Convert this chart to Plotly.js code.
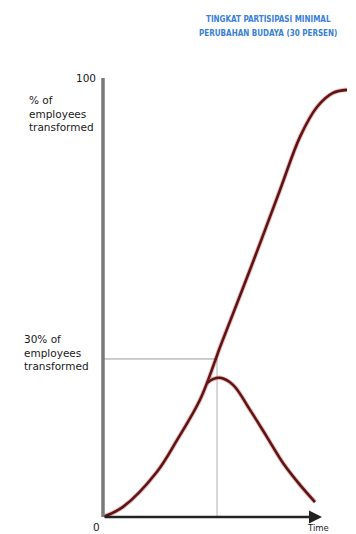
<!DOCTYPE html>
<html>
<head>
<meta charset="utf-8">
<script src="https://cdn.plot.ly/plotly-3.0.1.min.js"></script>
<style>html,body{margin:0;padding:0;background:#fff;}#chart{width:356px;height:534px;}</style>
</head>
<body>
<div id="chart"></div>
<script>
// Adoption S-curve (% of employees transformed over time)
const sTime = [0, 8, 21.6, 29.6, 38.8, 44.8, 46.8, 58.8, 70.8, 78.8, 85.6, 92, 97.6];
const sPct  = [0, 2.3, 10.3, 17.5, 26.7, 35.5, 38.7, 56.3, 74.5, 86.6, 93.4, 96.6, 97.3];
// Bell curve after the threshold
const bellTime = [41.6, 44, 46.8, 52, 58.8, 65.6, 72, 78.8, 84.8];
const bellPct  = [30.5, 31.4, 31.7, 30.1, 24.4, 18.2, 12.3, 7.3, 3.4];
// Threshold (30% of employees transformed)
const thresholdPct = 36;
const thresholdTime = 45.6;
const axisEndTime = 87.6;
const titleLines = ["TINGKAT PARTISIPASI MINIMAL", "PERUBAHAN BUDAYA (30 PERSEN)"];
const topLabel = ["% of", "employees", "transformed"];
const thresholdLabel = ["30% of", "employees", "transformed"];

const lineColor = '#5c1414';
const font = {family: '"DejaVu Sans", sans-serif', size: 10.5, color: '#1a1a1a'};
const titleFont = {family: '"DejaVu Sans Condensed", "Liberation Sans Narrow", sans-serif', size: 8, color: '#3a80d8'};

const traces = [
  {x: sTime, y: sPct, mode: 'lines', line: {color: 'rgba(200,60,60,0.35)', width: 4.5, shape: 'spline'}, hoverinfo: 'skip'},
  {x: sTime, y: sPct, mode: 'lines', line: {color: lineColor, width: 2.6, shape: 'spline'}, hoverinfo: 'skip'},
  {x: bellTime, y: bellPct, mode: 'lines', line: {color: 'rgba(200,60,60,0.35)', width: 4.5, shape: 'spline'}, hoverinfo: 'skip'},
  {x: bellTime, y: bellPct, mode: 'lines', line: {color: lineColor, width: 2.6, shape: 'spline'}, hoverinfo: 'skip'}
];

const layout = {
  width: 356, height: 534,
  margin: {l: 103, r: 3, t: 78, b: 17},
  paper_bgcolor: '#fff', plot_bgcolor: '#fff',
  showlegend: false,
  xaxis: {range: [0, 100], visible: false, fixedrange: true},
  yaxis: {range: [0, 100], visible: false, fixedrange: true},
  shapes: [
    {type: 'line', xref: 'x', yref: 'y', x0: 0, y0: thresholdPct, x1: thresholdTime, y1: thresholdPct, line: {color: '#9a9a9a', width: 1}, layer: 'below'},
    {type: 'line', xref: 'x', yref: 'y', x0: thresholdTime, y0: 0, x1: thresholdTime, y1: thresholdPct, line: {color: '#b0b0b0', width: 1}, layer: 'below'},
    {type: 'line', xref: 'paper', yref: 'paper', x0: 0, y0: 0, x1: 0, y1: 1, line: {color: '#7a7a7a', width: 3.5}}
  ],
  annotations: [
    {x: axisEndTime, y: 0, ax: 0, ay: 0, xref: 'x', yref: 'y', axref: 'x', ayref: 'y', showarrow: true, arrowhead: 2, arrowsize: 1, arrowwidth: 2.6, arrowcolor: '#222', text: ''},
    {xref: 'paper', yref: 'paper', x: 0.66, y: 1, xanchor: 'center', yanchor: 'middle', yshift: 59, showarrow: false,
     text: '<b>' + titleLines[0] + '</b>', font: titleFont},
    {xref: 'paper', yref: 'paper', x: 0.66, y: 1, xanchor: 'center', yanchor: 'middle', yshift: 45, showarrow: false,
     text: '<b>' + titleLines[1] + '</b>', font: titleFont},
    {xref: 'paper', yref: 'y', x: 0, y: 100, xanchor: 'right', yanchor: 'middle', xshift: -5, showarrow: false, text: '100', font: font},
    {xref: 'paper', yref: 'y', x: 0, y: 0, xanchor: 'right', yanchor: 'top', xshift: -1, yshift: -2, showarrow: false, text: '0', font: font},
    {xref: 'x', yref: 'paper', x: axisEndTime, y: 0, xanchor: 'center', yanchor: 'top', xshift: -4, yshift: -4, showarrow: false, text: 'Time', font: {family: font.family, size: 8.5, color: font.color}},
    {xref: 'paper', yref: 'y', x: 0, y: 96.8, xanchor: 'right', yanchor: 'top', xshift: -7, showarrow: false, align: 'left', text: topLabel.join('<br>'), font: font},
    {xref: 'paper', yref: 'y', x: 0, y: 42.4, xanchor: 'right', yanchor: 'top', xshift: -12, showarrow: false, align: 'left', text: thresholdLabel.join('<br>'), font: font}
  ]
};

Plotly.newPlot('chart', traces, layout, {staticPlot: true, displayModeBar: false});
</script>
</body>
</html>
